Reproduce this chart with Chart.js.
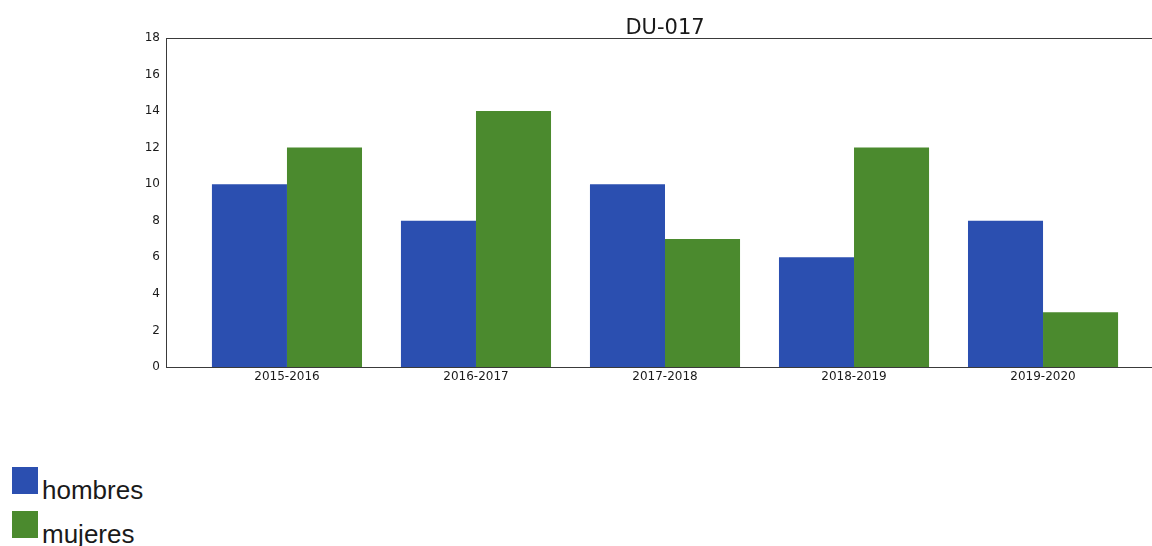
<!DOCTYPE html>
<html>
<head>
<meta charset="utf-8">
<script src="https://cdn.jsdelivr.net/npm/chart.js@4/dist/chart.umd.min.js"></script>
<style>
  html, body { margin: 0; padding: 0; background: #fff; overflow: hidden; }
  #wrap { position: relative; width: 1152px; height: 546px; overflow: hidden; }
  #chartBox { position: absolute; left: 0; top: 0; width: 1164px; height: 400px; }
  .legItem { position: absolute; left: 12px; font-family: "Liberation Sans", Arial, sans-serif; font-size: 26px; color: #1a1a1a; }
  .legItem .box { position: absolute; left: 0; width: 26px; height: 27px; }
  .legItem .txt { position: absolute; left: 30px; line-height: 26px; white-space: nowrap; }
</style>
</head>
<body>
<div id="wrap">
  <div id="chartBox"><canvas id="barChart" width="1164" height="400"></canvas></div>
  <div id="legend"></div>
</div>
<script>
const chartTitle = "DU-017";
const categories = ["2015-2016", "2016-2017", "2017-2018", "2018-2019", "2019-2020"];
const hombres = [10, 8, 10, 6, 8];
const mujeres = [12, 14, 7, 12, 3];
const seriesNames = ["hombres", "mujeres"];
const seriesColors = ["#2b4fb0", "#4b8a2e"];
const yTicks = [0, 2, 4, 6, 8, 10, 12, 14, 16, 18];

const toPoints = (arr) => arr.map((v, i) => ({ x: i, y: v }));

// frame round the plot area (top and right too)
const framePlugin = {
  id: "frame",
  afterDraw(chart) {
    const a = chart.chartArea;
    const ctx = chart.ctx;
    ctx.save();
    ctx.strokeStyle = "#3a3a3a";
    ctx.lineWidth = 1;
    ctx.strokeRect(Math.round(a.left) + 0.5, Math.round(a.top) + 0.5, Math.round(a.right - a.left), Math.round(a.bottom - a.top));
    ctx.restore();
  },
};

new Chart(document.getElementById("barChart").getContext("2d"), {
  type: "bar",
  data: {
    datasets: [
      {
        label: seriesNames[0],
        data: toPoints(hombres),
        backgroundColor: seriesColors[0],
        borderWidth: 0,
        categoryPercentage: 0.794,
        barPercentage: 1,
      },
      {
        label: seriesNames[1],
        data: toPoints(mujeres),
        backgroundColor: seriesColors[1],
        borderWidth: 0,
        categoryPercentage: 0.794,
        barPercentage: 1,
      },
    ],
  },
  options: {
    responsive: false,
    animation: false,
    layout: { padding: { left: 0, right: 0, top: 0, bottom: 0 } },
    plugins: {
      legend: { display: false },
      tooltip: { enabled: false },
      title: {
        display: true,
        fullSize: false,
        text: chartTitle,
        color: "#1a1a1a",
        font: { family: "DejaVu Sans", size: 21, weight: "normal", lineHeight: 0.9 },
        padding: { top: 19, bottom: 0 },
      },
    },
    scales: {
      x: {
        type: "linear",
        offset: false,
        min: -0.64,
        max: 4.64,
        grid: { display: false, drawTicks: false, offset: false },
        border: { display: false },
        afterBuildTicks(scale) {
          scale.ticks = categories.map((c, i) => ({ value: i }));
        },
        afterFit(scale) {
          scale.height = 33;
        },
        ticks: {
          autoSkip: false,
          maxRotation: 0,
          padding: 3,
          color: "#1a1a1a",
          font: { family: "DejaVu Sans", size: 12 },
          callback: (v) => (Number.isInteger(v) ? categories[v] : ""),
        },
      },
      y: {
        min: 0,
        max: 18,
        grid: { display: false, drawTicks: true, tickLength: 3, tickColor: "#3a3a3a" },
        border: { display: false },
        afterBuildTicks(scale) {
          scale.ticks = yTicks.map((v) => ({ value: v }));
        },
        afterFit(scale) {
          scale.width = 166;
        },
        ticks: {
          padding: 3,
          color: "#1a1a1a",
          font: { family: "DejaVu Sans", size: 12 },
        },
      },
    },
  },
  plugins: [framePlugin],
});

// legend in the lower left corner
const legend = document.getElementById("legend");
seriesNames.forEach((name, i) => {
  const item = document.createElement("div");
  item.className = "legItem";
  item.style.top = 467 + i * 44 + "px";
  item.innerHTML = '<div class="box" style="background:' + seriesColors[i] + '"></div><span class="txt" style="top:10px">' + name + "</span>";
  legend.appendChild(item);
});
</script>
</body>
</html>
